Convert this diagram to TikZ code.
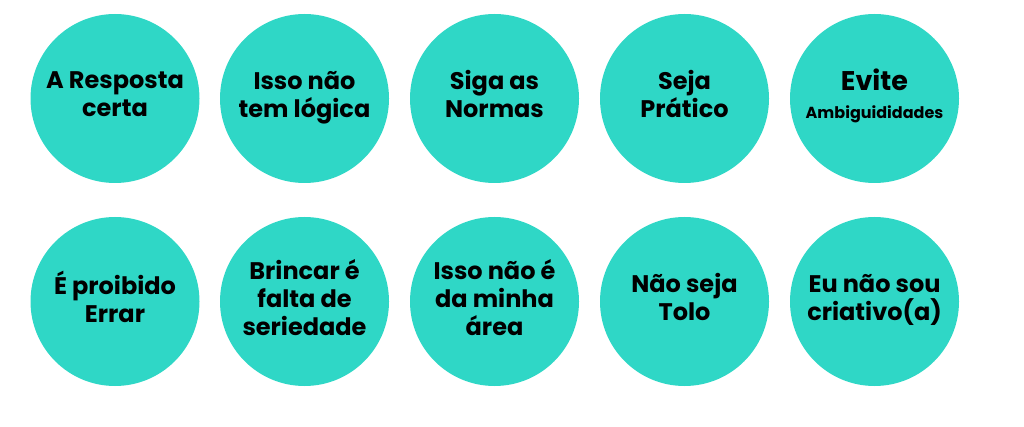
\documentclass[tikz,border=0pt]{standalone}
\usepackage{fontspec}
\usepackage{xcolor}
\usepackage{tikz}
\setmainfont{Poppins}
\definecolor{turq}{HTML}{2FD7C6}

\begin{document}
\begin{tikzpicture}[x=1pt,y=-1pt]
\tikzstyle{bubble}=[circle, fill=turq, draw=none, minimum size=169pt, inner sep=0pt,
  text depth=9pt, align=center, font=\fontsize{24}{28}\selectfont\bfseries]
\useasboundingbox (0,0) rectangle (1024,427);
\node [bubble] (resposta) at (115,98.5) {A Resposta\\certa};
\node [bubble] (logica) at (304.5,98.5) {Isso não\\tem lógica};
\node [bubble] (normas) at (494.5,98.5) {Siga as\\Normas};
\node [bubble] (pratico) at (684.5,98.5) {Seja\\Prático};
\node [bubble] (evite) at (874.5,98.5) {\fontsize{27}{22.6}\selectfont Evite\\\fontsize{16}{22.6}\selectfont Ambiguididades};
\node [bubble] (errar) at (115,301.5) {É proibido\\Errar};
\node [bubble] (brincar) at (304.5,301.5) {Brincar é\\falta de\\seriedade};
\node [bubble] (area) at (494.5,301.5) {Isso não é\\da minha\\área};
\node [bubble] (tolo) at (684.5,301.5) {Não seja\\Tolo};
\node [bubble] (criativo) at (874.5,301.5) {Eu não sou\\criativo(a)};
\end{tikzpicture}
\end{document}
